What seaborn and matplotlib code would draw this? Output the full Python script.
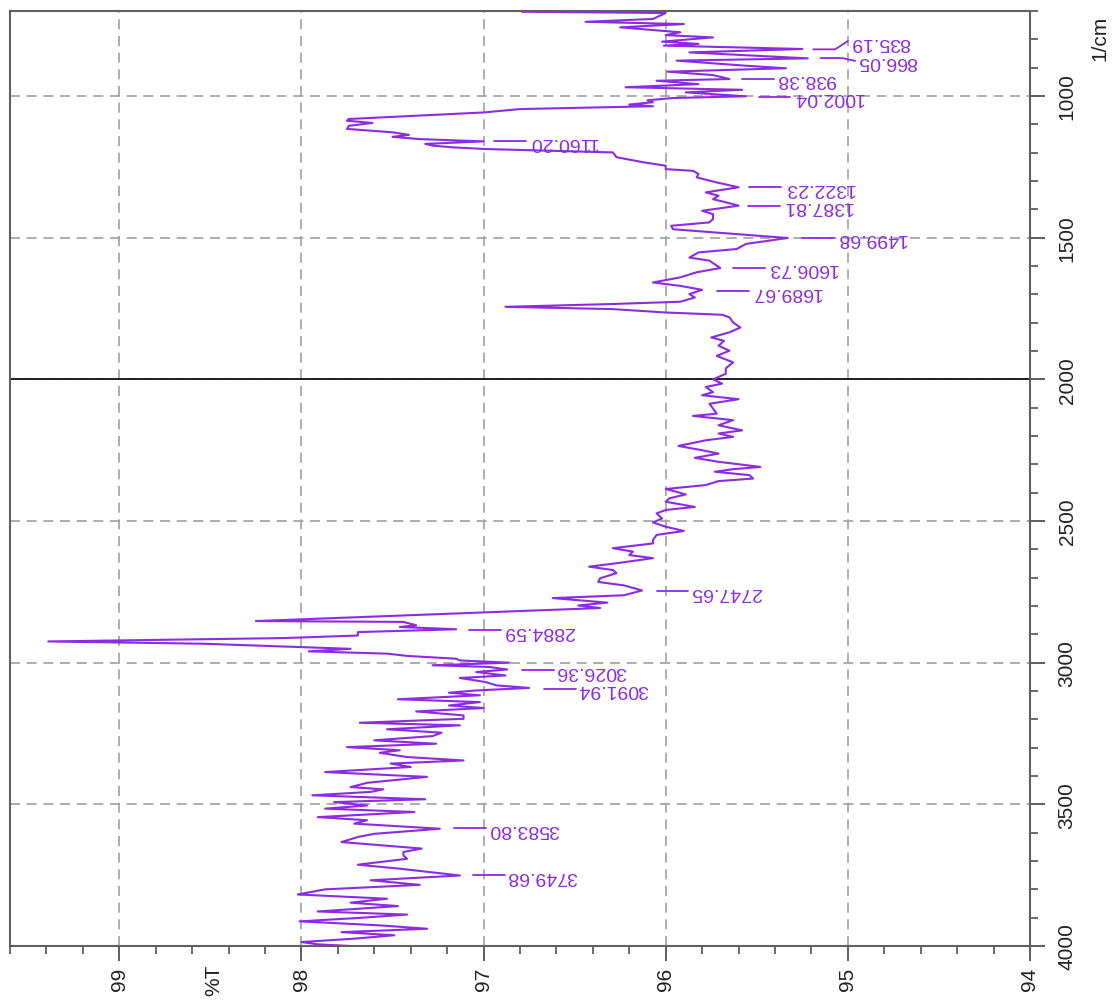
import numpy as np
import pandas as pd
import seaborn as sns
import matplotlib.pyplot as plt
from matplotlib.ticker import MultipleLocator

# spectrum: wavenumber (1/cm) and transmittance (%T)
wavenumber = [702.5, 707, 728, 738, 746, 757.5, 775, 785, 793, 808, 816, 822, 834, 846, 867, 875,
              893, 902, 914, 926, 940, 946, 958, 969, 978, 987, 1001, 1007, 1015, 1022, 1030, 1036,
              1046, 1058, 1069, 1081, 1087, 1095, 1105, 1116, 1128, 1137, 1144, 1152, 1160, 1169,
              1175, 1181, 1187, 1199, 1216, 1234, 1246, 1258, 1264, 1275, 1287, 1305, 1322, 1340,
              1352, 1364, 1375, 1387, 1405, 1417, 1434, 1446, 1458, 1470, 1481, 1501, 1522, 1540,
              1552, 1570, 1581, 1607, 1622, 1640, 1658, 1670, 1684, 1699, 1711, 1726, 1734, 1744,
              1752, 1764, 1772, 1781, 1799, 1817, 1834, 1852, 1864, 1881, 1899, 1917, 1940, 1961,
              1980, 2000, 2015, 2027, 2045, 2056, 2070, 2086, 2103, 2121, 2129, 2144, 2162, 2180,
              2191, 2203, 2215, 2235, 2250, 2262, 2277, 2291, 2309, 2317, 2326, 2338, 2350, 2359,
              2373, 2387, 2397, 2406, 2420, 2432, 2450, 2461, 2473, 2491, 2505, 2520, 2535, 2549,
              2567, 2579, 2596, 2608, 2620, 2631, 2649, 2661, 2673, 2684, 2702, 2715, 2727, 2745,
              2762, 2772, 2788, 2798, 2807, 2853, 2856, 2868, 2874, 2882, 2892, 2904, 2913, 2925,
              2933, 2945, 2951, 2960, 2968, 2976, 2986, 2992, 3000, 3009, 3015, 3024, 3033, 3045,
              3054, 3068, 3080, 3089, 3098, 3106, 3115, 3129, 3139, 3151, 3160, 3172, 3186, 3198,
              3212, 3221, 3235, 3247, 3259, 3274, 3286, 3298, 3309, 3318, 3333, 3345, 3356, 3368,
              3386, 3403, 3424, 3439, 3447, 3456, 3468, 3482, 3492, 3504, 3515, 3527, 3545, 3556,
              3568, 3586, 3604, 3615, 3633, 3647, 3656, 3668, 3680, 3692, 3713, 3727, 3751, 3768,
              3784, 3800, 3818, 3833, 3847, 3859, 3878, 3889, 3901, 3913, 3927, 3939, 3951, 3962,
              3974, 3986, 3994, 4000]
transmittance = [96.79, 96.00, 96.07, 96.44, 95.90, 96.25, 95.92, 96.00, 95.74, 96.02, 95.82, 96.01,
                 95.25, 95.87, 95.22, 95.94, 95.56, 95.34, 95.99, 95.74, 95.65, 96.05, 95.82, 96.22,
                 95.58, 95.89, 95.56, 95.96, 96.10, 96.07, 96.20, 96.07, 96.80, 97.00, 97.35, 97.74,
                 97.75, 97.61, 97.74, 97.75, 97.50, 97.41, 97.50, 97.35, 97.00, 97.32, 97.28, 97.17,
                 96.99, 96.29, 96.27, 96.12, 96.00, 96.00, 95.85, 95.82, 95.83, 95.72, 95.60, 95.78,
                 95.71, 95.74, 95.67, 95.60, 95.80, 95.74, 95.74, 95.76, 95.97, 95.96, 95.74, 95.33,
                 95.56, 95.61, 95.82, 95.87, 95.76, 95.70, 95.83, 95.92, 96.07, 95.92, 95.80, 95.87,
                 95.84, 95.92, 96.29, 96.88, 96.29, 96.00, 95.69, 95.65, 95.63, 95.59, 95.65, 95.75,
                 95.68, 95.71, 95.65, 95.72, 95.63, 95.67, 95.67, 95.74, 95.69, 95.78, 95.74, 95.80,
                 95.60, 95.76, 95.74, 95.72, 95.85, 95.63, 95.71, 95.58, 95.71, 95.63, 95.78, 95.93,
                 95.80, 95.71, 95.84, 95.71, 95.48, 95.63, 95.73, 95.54, 95.52, 95.71, 95.78, 96.00,
                 95.94, 95.89, 95.98, 96.00, 95.84, 96.00, 96.05, 96.02, 96.07, 96.00, 95.90, 96.05,
                 96.07, 96.07, 96.29, 96.18, 96.20, 96.07, 96.27, 96.42, 96.29, 96.27, 96.36, 96.37,
                 96.23, 96.13, 96.23, 96.62, 96.32, 96.48, 96.36, 98.25, 97.44, 97.37, 97.46, 97.15,
                 97.69, 97.69, 98.09, 99.39, 98.54, 98.00, 97.73, 97.96, 97.53, 97.42, 97.15, 97.13,
                 96.86, 97.28, 96.97, 96.87, 97.04, 96.88, 97.13, 96.99, 96.93, 96.75, 97.04, 97.19,
                 97.02, 97.47, 97.02, 97.19, 97.00, 97.37, 97.11, 97.11, 97.68, 97.13, 97.53, 97.23,
                 97.28, 97.60, 97.26, 97.75, 97.46, 97.57, 97.42, 97.11, 97.51, 97.40, 97.87, 97.31,
                 97.64, 97.73, 97.55, 97.62, 97.94, 97.32, 97.82, 97.64, 97.87, 97.38, 97.91, 97.64,
                 97.71, 97.24, 97.60, 97.69, 97.78, 97.51, 97.34, 97.44, 97.44, 97.42, 97.69, 97.46,
                 97.13, 97.62, 97.35, 97.87, 98.02, 97.53, 97.73, 97.47, 97.91, 97.42, 97.69, 98.01,
                 97.57, 97.31, 97.78, 97.49, 97.71, 98.00, 97.91, 97.73]

# labelled peaks
peak_wn = [835.19, 866.05, 938.38, 1002.04, 1160.20, 1322.23, 1387.81, 1499.68,
           1606.73, 1689.67, 2747.65, 2884.59, 3026.36, 3091.94, 3583.80, 3749.68]
peak_t = [95.25, 95.21, 95.64, 95.55, 97.00, 95.60, 95.61, 95.31,
          95.69, 95.78, 96.11, 97.14, 96.85, 96.73, 97.22, 97.12]

df = pd.DataFrame({'wn': wavenumber, 'T': transmittance})

sns.set_style('white')
plt.rcParams['font.family'] = ['Liberation Sans', 'DejaVu Sans']

purple = '#8b2be2'
fig = plt.figure(figsize=(11.13, 10.03), dpi=100)
ax = fig.add_axes([0.009, 0.0558, 0.9164, 0.9322])

sns.lineplot(data=df, x='T', y='wn', sort=False, orient='y', estimator=None,
             color=purple, lw=1.5, ax=ax, zorder=3)

ax.set_xlim(99.6, 94.0)
ax.set_ylim(4000, 700)

ax.xaxis.set_major_locator(MultipleLocator(1))
ax.xaxis.set_minor_locator(MultipleLocator(0.2))
ax.yaxis.set_major_locator(MultipleLocator(500))
ax.yaxis.set_minor_locator(MultipleLocator(100))
ax.yaxis.tick_right()
ax.set_yticks([1000, 1500, 2000, 2500, 3000, 3500, 4000])
ax.set_xticks([99, 98, 97, 96, 95, 94])

ax.grid(True, which='major', color='#a0a0a0', lw=1.2, ls=(0, (6, 4)))
ax.axhline(2000, color='#202020', lw=1.4, zorder=2)

ax.tick_params(which='both', bottom=True, right=True, left=False, top=False)
ax.tick_params(axis='both', which='major', direction='out', length=11, width=1.3,
               color='#505050', labelsize=15, labelcolor='#222222')
ax.tick_params(axis='both', which='minor', direction='out', length=6, width=1.2, color='#505050')
ax.tick_params(axis='x', which='major', pad=4)
ax.tick_params(axis='y', which='major', pad=9)
for lab in ax.get_xticklabels():
    lab.set_rotation(90)
for lab in ax.get_yticklabels():
    lab.set_rotation(90)
    lab.set_va('center')

for sp in ax.spines.values():
    sp.set_visible(True)
    sp.set_color('#606060')
    sp.set_linewidth(1.5)

ax.set_xlabel('')
ax.set_ylabel('')

# axis titles
ax.annotate('%T', xy=(98.48, 0), xycoords=('data', 'axes fraction'),
            xytext=(0, -13), textcoords='offset points', rotation=90,
            ha='center', va='top', fontsize=15, color='#222222')
fig.text(1100 / 1113, 1 - 38 / 1003, '1/cm', rotation=90, ha='center', va='center',
         fontsize=15, color='#222222')

# peak labels: leader line then upside-down number
shift = {835.19: -29, 866.05: 10}
for w, t in zip(peak_wn, peak_t):
    x0 = t - 0.06
    lw_ = w + shift.get(w, 0)
    if w in shift:
        xs = [x0, x0 - 0.12, x0 - 0.19]
        ys = [w, w, lw_]
    else:
        xs = [x0, x0 - 0.175]
        ys = [w, w]
    ax.plot(xs, ys, color=purple, lw=1.3, zorder=3)
    ax.text(xs[-1] - 0.012, lw_, f'{w:.2f}', rotation=180, rotation_mode='anchor',
            ha='right', va='center', fontsize=14, color=purple)

fig.savefig('out.png', dpi=100)
